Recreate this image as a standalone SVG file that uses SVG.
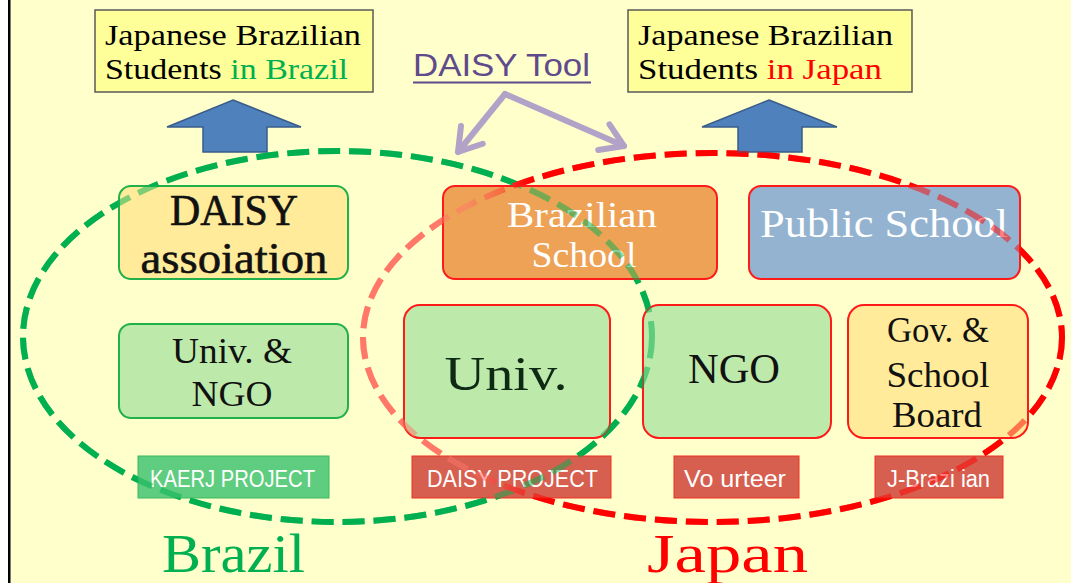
<svg xmlns="http://www.w3.org/2000/svg" width="1071" height="583" viewBox="0 0 1071 583">
<style>
.serif{font-family:"Liberation Serif","DejaVu Serif",serif}
.sans{font-family:"Liberation Sans","DejaVu Sans",sans-serif}
.topbox{fill:#FFFF99;stroke:#5a5a5a;stroke-width:1.5}
.node{stroke-width:2}
.gs{stroke:#22B04B}
.rs{stroke:#FF1A1A}
.yl{fill:#FFEB99}
.gr{fill:#BDEAAB}
.bl{font-size:30px;fill:#000}
.w{fill:#fff}
.k{fill:#111}
.bar{font-size:23px;fill:#fff}
.ell{fill:none;stroke-width:6;stroke-dasharray:22 9}
.blk{fill:#4F81BD;stroke:#385D8A;stroke-width:1.5}
.tool{fill:none;stroke:#B3A2C7;stroke-width:6;stroke-linecap:round;stroke-linejoin:round}
</style>
<defs>
<marker id="chev" markerUnits="userSpaceOnUse" markerWidth="44" markerHeight="44" viewBox="0 0 44 44" refX="32" refY="22" orient="auto">
<path d="M10 8 L32 22 L10 36" fill="none" stroke="#B3A2C7" stroke-width="6" stroke-linecap="round" stroke-linejoin="round"/>
</marker>
<linearGradient id="redg" gradientUnits="userSpaceOnUse" x1="363" y1="0" x2="1062" y2="0">
<stop offset="0" stop-color="#FF7868"/>
<stop offset="0.15" stop-color="#FF7868"/>
<stop offset="0.24" stop-color="#FF0000"/>
<stop offset="1" stop-color="#FF0000"/>
</linearGradient>
</defs>
<rect x="0" y="0" width="1071" height="583" fill="#FFFFCC"/>
<rect x="0" y="0" width="8" height="583" fill="#ffffff"/>
<rect x="8" y="0" width="2.5" height="583" fill="#000"/>

<g id="regions-under">
<ellipse class="ell" cx="337.5" cy="336.5" rx="314.5" ry="185.5" stroke="#00B050"/>
<ellipse class="ell" cx="712.5" cy="337.5" rx="349.5" ry="184.5" stroke="url(#redg)"/>
</g>

<g id="students-brazil">
<rect class="topbox" x="95" y="10" width="278" height="82"/>
<text class="serif bl" x="105" y="45" textLength="256" lengthAdjust="spacingAndGlyphs">Japanese Brazilian</text>
<text class="serif bl" x="105" y="79" textLength="243" lengthAdjust="spacingAndGlyphs">Students <tspan fill="#00B050">in Brazil</tspan></text>
</g>
<g id="students-japan">
<rect class="topbox" x="628" y="10" width="284" height="82"/>
<text class="serif bl" x="638" y="45" textLength="255" lengthAdjust="spacingAndGlyphs">Japanese Brazilian</text>
<text class="serif bl" x="638" y="79" textLength="244" lengthAdjust="spacingAndGlyphs">Students <tspan fill="#FF0000">in Japan</tspan></text>
</g>
<g id="daisy-tool">
<text class="sans" x="413" y="76" font-size="32" fill="#5F4B8B" textLength="177" lengthAdjust="spacingAndGlyphs">DAISY Tool</text>
<rect x="413" y="81.5" width="178" height="2" fill="#5F4B8B"/>
</g>

<g id="arrow-brazil">
<polygon class="blk" points="233,100 301,127 267,127 267,152 203,152 203,127 167,127"/>
</g>
<g id="arrow-japan">
<polygon class="blk" points="769,100 837,127 802,127 802,152 738,152 738,127 702,127"/>
</g>

<g id="daisy-association">
<rect class="node gs yl" x="119" y="186" width="229" height="93" rx="12"/>
<text class="serif k" x="234" y="225" font-size="44" text-anchor="middle" textLength="128" lengthAdjust="spacingAndGlyphs" stroke="#111" stroke-width="0.6">DAISY</text>
<text class="serif k" x="234" y="273" font-size="44" text-anchor="middle" textLength="187" lengthAdjust="spacingAndGlyphs" stroke="#111" stroke-width="0.6">assoiation</text>
</g>
<g id="brazilian-school">
<rect class="node rs" x="443" y="186" width="274" height="93" rx="12" fill="#EEA256"/>
<text class="serif w" x="582" y="227" font-size="35" text-anchor="middle" textLength="150" lengthAdjust="spacingAndGlyphs">Brazilian</text>
<text class="serif w" x="584" y="267" font-size="35" text-anchor="middle" textLength="105" lengthAdjust="spacingAndGlyphs">School</text>
</g>
<g id="public-school">
<rect class="node rs" x="749" y="186" width="271" height="93" rx="12" fill="#93B3D0"/>
<text class="serif w" x="884" y="237" font-size="39" text-anchor="middle" textLength="248" lengthAdjust="spacingAndGlyphs">Public School</text>
</g>

<g id="univ-ngo">
<rect class="node gs gr" x="119" y="324" width="229" height="94" rx="12"/>
<text class="serif k" x="232" y="363" font-size="36" text-anchor="middle" textLength="120" lengthAdjust="spacingAndGlyphs">Univ. &amp;</text>
<text class="serif k" x="232" y="406" font-size="36" text-anchor="middle" textLength="81" lengthAdjust="spacingAndGlyphs">NGO</text>
</g>
<g id="univ">
<rect class="node rs gr" x="404" y="305" width="206" height="133" rx="16"/>
<text class="serif" x="506" y="390" font-size="48" fill="#0F2A14" text-anchor="middle" textLength="123" lengthAdjust="spacingAndGlyphs">Univ.</text>
</g>
<g id="ngo">
<rect class="node rs gr" x="643" y="305" width="188" height="133" rx="16"/>
<text class="serif k" x="734" y="383" font-size="43" text-anchor="middle" textLength="92" lengthAdjust="spacingAndGlyphs">NGO</text>
</g>
<g id="gov-board">
<rect class="node rs yl" x="848" y="305" width="180" height="133" rx="16"/>
<text class="serif k" x="938" y="342" font-size="35" text-anchor="middle" textLength="102" lengthAdjust="spacingAndGlyphs">Gov. &amp;</text>
<text class="serif k" x="938" y="387" font-size="35" text-anchor="middle" textLength="103" lengthAdjust="spacingAndGlyphs">School</text>
<text class="serif k" x="937" y="427" font-size="35" text-anchor="middle" textLength="90" lengthAdjust="spacingAndGlyphs">Board</text>
</g>

<g id="kaerj-project">
<rect x="138" y="456" width="191" height="42" fill="#5FCD7F" stroke="#3CB95F" stroke-width="1"/>
<text class="sans bar" x="150" y="487" textLength="165" lengthAdjust="spacingAndGlyphs">KAERJ PROJECT</text>
</g>
<g id="daisy-project">
<rect x="412" y="456" width="199" height="42" fill="#D65F4F" stroke="#F03020" stroke-width="1"/>
<text class="sans bar" x="427" y="487" textLength="171" lengthAdjust="spacingAndGlyphs">DAISY PROJECT</text>
</g>
<g id="volunteer">
<rect x="674" y="456" width="125" height="42" fill="#D65F4F" stroke="#F03020" stroke-width="1"/>
<text class="sans bar" x="684" y="487" textLength="102" lengthAdjust="spacingAndGlyphs">Vo urteer</text>
</g>
<g id="j-brazilian">
<rect x="875" y="456" width="128" height="42" fill="#D65F4F" stroke="#F03020" stroke-width="1"/>
<text class="sans bar" x="887" y="487" textLength="103" lengthAdjust="spacingAndGlyphs">J-Brazi ian</text>
</g>

<g id="regions-over" opacity="0.5">
<ellipse class="ell" cx="337.5" cy="336.5" rx="314.5" ry="185.5" stroke="#00B050"/>
<ellipse class="ell" cx="712.5" cy="337.5" rx="349.5" ry="184.5" stroke="url(#redg)"/>
</g>

<g id="connectors">
<path class="tool" d="M505 94 L458 152" marker-end="url(#chev)"/>
<path class="tool" d="M505 94 L624 146" marker-end="url(#chev)"/>
</g>

<g id="region-labels">
<text class="serif" x="162" y="572" font-size="54" fill="#00B050" textLength="143" lengthAdjust="spacingAndGlyphs">Brazil</text>
<text class="serif" x="647" y="572" font-size="54" fill="#FF0000" textLength="161" lengthAdjust="spacingAndGlyphs">Japan</text>
</g>
</svg>
